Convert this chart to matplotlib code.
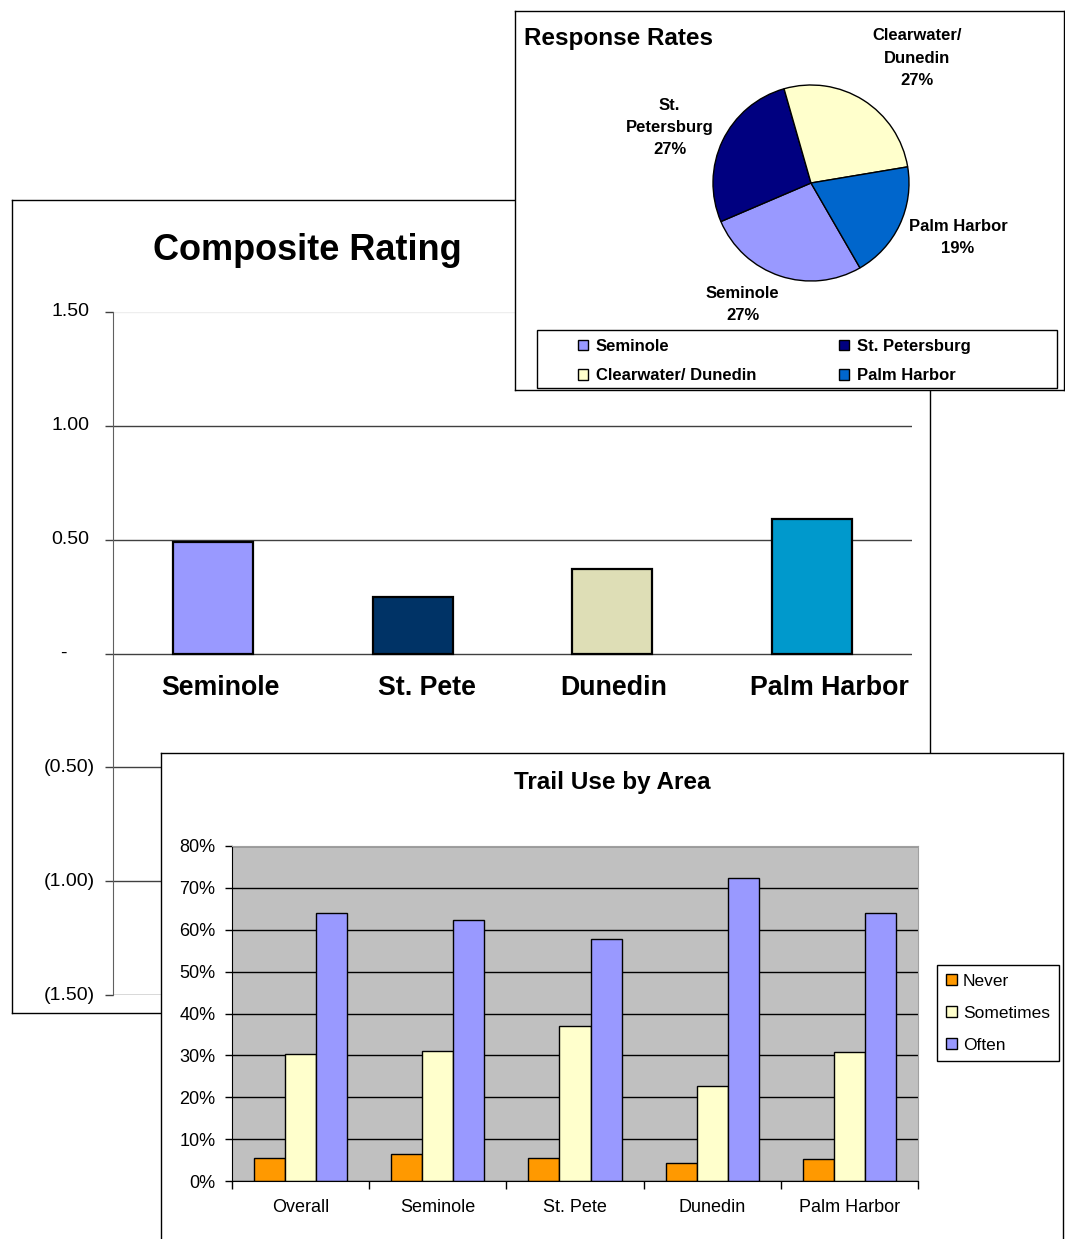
import matplotlib.pyplot as plt
import matplotlib.transforms as mtransforms
from matplotlib.patches import Rectangle
import numpy as np

plt.rcParams['font.family'] = ['Liberation Sans', 'DejaVu Sans']

W, H = 1065, 1239

# Composite Rating
comp_areas = ['Seminole', 'St. Pete', 'Dunedin', 'Palm Harbor']
comp_values = [0.49, 0.25, 0.37, 0.59]
comp_ticks = [1.5, 1.0, 0.5, 0.0, -0.5, -1.0, -1.5]
comp_ticklabels = ['1.50', '1.00', '0.50', '-', '(0.50)', '(1.00)', '(1.50)']
comp_colors = ['#9999FF', '#003366', '#DEDEB6', '#0099CC']

# Response Rates
resp_names = ['Seminole', 'St. Petersburg', 'Clearwater/ Dunedin', 'Palm Harbor']
resp_wrapped = ['Seminole', 'St.\nPetersburg', 'Clearwater/\nDunedin', 'Palm Harbor']
resp_values = [26.9, 27.0, 26.8, 19.3]
resp_colors = ['#9999FF', '#000080', '#FFFFCC', '#0066CC']

# Trail Use by Area
trail_areas = ['Overall', 'Seminole', 'St. Pete', 'Dunedin', 'Palm Harbor']
never = [5.6, 6.4, 5.6, 4.4, 5.2]
sometimes = [30.4, 31.1, 36.9, 22.8, 30.8]
often = [64.0, 62.4, 57.7, 72.4, 64.0]
trail_ticks = [0, 10, 20, 30, 40, 50, 60, 70, 80]


def box(x0, y0, x1, y1):
    # pixel box (top-left origin) -> figure rect
    return [x0 / W, 1 - y1 / H, (x1 - x0) / W, (y1 - y0) / H]


def frame(rect, z):
    f = fig.add_axes(rect, zorder=z)
    f.set_xticks([])
    f.set_yticks([])
    f.set_facecolor('white')
    for s in f.spines.values():
        s.set_color('black')
        s.set_linewidth(1)
    return f


fig = plt.figure(figsize=(W / 100, H / 100), dpi=100)

# ---------- Composite Rating ----------
frame(box(12, 200, 930, 1013), 0)
ax1 = fig.add_axes(box(113, 312, 912, 995), zorder=1)
ax1.patch.set_alpha(0)
x = np.arange(len(comp_areas))
ax1.bar(x, comp_values, width=0.4, color=comp_colors, edgecolor='black',
        linewidth=1.6, zorder=3)
ax1.set_xlim(-0.5, 3.5)
ax1.set_ylim(-1.5, 1.5)
ax1.set_xticks([])
ax1.set_yticks(comp_ticks)
ax1.set_yticklabels([])
ax1.tick_params(axis='y', length=6, color='#404040', width=1)
for t in comp_ticks:
    ax1.axhline(t, color='#EEEEEE' if t == 1.5 else '#404040', lw=1, zorder=1)
for s in ['top', 'right', 'bottom']:
    ax1.spines[s].set_visible(False)
ax1.spines['left'].set_color('#606060')

trans = mtransforms.blended_transform_factory(ax1.transAxes, ax1.transData)
for t, lab in zip(comp_ticks, comp_ticklabels):
    if t > 0:
        xpos, ha = -0.030, 'right'
    elif t < 0:
        xpos, ha = -0.0225, 'right'
    else:
        xpos, ha = -0.0626, 'center'
    ax1.text(xpos, t, lab, transform=trans, ha=ha, va='center', fontsize=14)

label_shift = [8, 14, 1, 17]  # px
for i, name in enumerate(comp_areas):
    ax1.annotate(name, (x[i], 0), xytext=(label_shift[i] * 0.72, -24.5),
                 textcoords='offset points', ha='center', va='center',
                 fontsize=19.3, fontweight='bold')

fig.text(307 / W, 1 - 251 / H, 'Composite Rating', fontsize=26,
         fontweight='bold', ha='center', va='center')

# ---------- Response Rates ----------
frame(box(515, 11, 1064, 390), 2)
ax2 = fig.add_axes(box(713, 85, 909, 281), zorder=3)
wedges, _ = ax2.pie(resp_values, colors=resp_colors, startangle=300,
                    counterclock=False, radius=1,
                    wedgeprops=dict(edgecolor='black', linewidth=1))
ax2.set_xlim(-1, 1)
ax2.set_ylim(-1, 1)
ax2.axis('off')

total = sum(resp_values)
shifts = [-11, 4, -8, 5]
dists = [1.42, 1.55, 1.67, 1.6]
for w, lab, v, sh, d in zip(wedges, resp_wrapped, resp_values, shifts, dists):
    ang = np.deg2rad((w.theta1 + w.theta2) / 2 + sh)
    ax2.text(d * np.cos(ang), d * np.sin(ang), f'{lab}\n{v / total * 100:.0f}%',
             ha='center', va='center', fontsize=12, fontweight='bold',
             linespacing=1.6, clip_on=False)

fig.text(524 / W, 1 - 38 / H, 'Response Rates', fontsize=17.5,
         fontweight='bold', ha='left', va='center')

fig.add_artist(Rectangle((537 / W, 1 - 388 / H), 520 / W, 58 / H,
                         transform=fig.transFigure, facecolor='white',
                         edgecolor='black', lw=1, zorder=4))
order = [0, 2, 1, 3]
fig.legend([wedges[i] for i in order], [resp_names[i] for i in order],
           loc='upper left', bbox_to_anchor=(578 / W, 1 - 339 / H), ncol=2,
           frameon=False, prop=dict(weight='bold', size=12),
           handlelength=0.6, handleheight=0.6, handletextpad=0.45,
           columnspacing=5.0, labelspacing=0.85, borderpad=0, borderaxespad=0)

# ---------- Trail Use by Area ----------
frame(box(161, 753, 1063, 1260), 2)
ax3 = fig.add_axes(box(232, 846, 918, 1181), zorder=3)
xt = np.arange(len(trail_areas))
bw = 0.226
ax3.bar(xt - bw, never, bw, color='#FF9900', edgecolor='black', lw=1, label='Never')
ax3.bar(xt, sometimes, bw, color='#FFFFCC', edgecolor='black', lw=1, label='Sometimes')
ax3.bar(xt + bw, often, bw, color='#9999FF', edgecolor='black', lw=1, label='Often')
ax3.set_facecolor('#C0C0C0')
ax3.set_ylim(0, 80)
ax3.set_xlim(-0.5, len(trail_areas) - 0.5)
ax3.set_yticks(trail_ticks)
ax3.set_yticklabels([f'{t}%' for t in trail_ticks], fontsize=13)
ax3.yaxis.grid(True, color='black', lw=1)
ax3.set_axisbelow(True)
ax3.tick_params(axis='y', length=5, pad=7, width=1)
ax3.set_xticks(xt)
ax3.set_xticklabels(trail_areas, fontsize=13)
ax3.set_xticks(np.arange(len(trail_areas) + 1) - 0.5, minor=True)
ax3.tick_params(axis='x', which='major', length=0, pad=13)
ax3.tick_params(axis='x', which='minor', length=6, width=1)
ax3.spines['left'].set_color('black')
ax3.spines['bottom'].set_color('black')
ax3.spines['top'].set_color('#A0A0A0')
ax3.spines['right'].set_color('#A0A0A0')

fig.text(612 / W, 1 - 783 / H, 'Trail Use by Area', fontsize=17.5,
         fontweight='bold', ha='center', va='center')

leg = ax3.legend(loc='upper left', bbox_to_anchor=(937 / W, 1 - 965 / H),
                 bbox_transform=fig.transFigure, fancybox=False,
                 edgecolor='black', framealpha=1, borderaxespad=0,
                 handlelength=0.65, handleheight=0.65, handletextpad=0.35,
                 labelspacing=0.98, fontsize=12.5, borderpad=0.5)
leg.get_frame().set_linewidth(1)

fig.savefig('out.png', dpi=100)
